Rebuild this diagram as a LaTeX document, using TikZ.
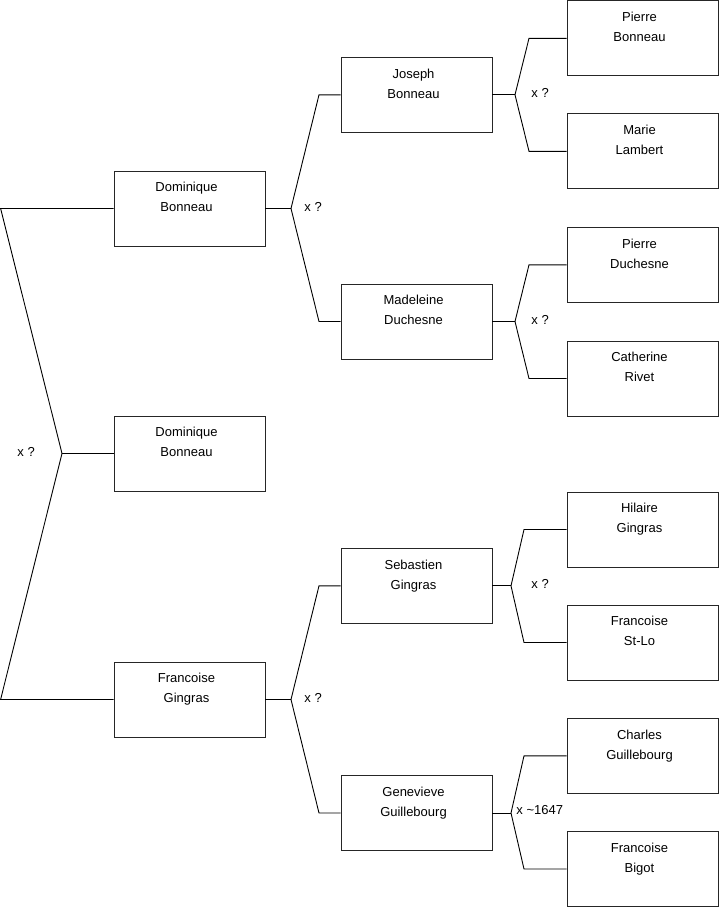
\documentclass[tikz,border=0pt]{standalone}
\usepackage{fontspec}
\setmainfont{Liberation Sans}
\begin{document}
\begin{tikzpicture}[x=1pt,y=-1pt,line width=0.9pt,
  box/.style={draw=black!85,minimum width=151pt,minimum height=75pt,inner sep=0pt,
    label={[txt]north:{#1}}},
  txt/.style={anchor=north,yshift=-11.5pt,xshift=-3pt,inner sep=0pt,align=center,
    font=\fontsize{13}{20}\selectfont},
  lbl/.style={anchor=west,inner sep=0pt,font=\fontsize{13}{16}\selectfont},
  con/.style={draw=black}]
\useasboundingbox (0,0) rectangle (719,908);
% left column
\node[box={Dominique\\Bonneau}] (d1) at (189.5,208.5) {};
\node[box={Dominique\\Bonneau}] (d2) at (189.5,453.5) {};
\node[box={Francoise\\Gingras}] (fg) at (189.5,699.5) {};
% middle column
\node[box={Joseph\\Bonneau}] (jb) at (416.5,94.8) {};
\node[box={Madeleine\\Duchesne}] (md) at (416.5,321.5) {};
\node[box={Sebastien\\Gingras}] (sg) at (416.5,585.8) {};
\node[box={Genevieve\\Guillebourg}] (gg) at (416.5,813) {};
% right column
\node[box={Pierre\\Bonneau}] (pb) at (642.5,38.3) {};
\node[box={Marie\\Lambert}] (ml) at (642.5,151.3) {};
\node[box={Pierre\\Duchesne}] (pd) at (642.5,264.8) {};
\node[box={Catherine\\Rivet}] (cr) at (642.5,378.5) {};
\node[box={Hilaire\\Gingras}] (hg) at (642.5,529.5) {};
\node[box={Francoise\\St-Lo}] (fs) at (642.5,642.5) {};
\node[box={Charles\\Guillebourg}] (cg) at (642.5,755.8) {};
\node[box={Francoise\\Bigot}] (fb) at (642.5,869) {};
% vertices and bend points
\coordinate (v0) at (62,0 |- d2.west);
\coordinate (a0) at (0.6,0 |- d1.west);
\coordinate (b0) at (0.6,0 |- fg.west);
\coordinate (v1) at (291,0 |- d1.east);
\coordinate (a1) at (319,0 |- jb.west);
\coordinate (b1) at (319,0 |- md.west);
\coordinate (v2) at (291,0 |- fg.east);
\coordinate (a2) at (319,0 |- sg.west);
\coordinate (b2) at (319,0 |- gg.west);
\coordinate (v3) at (515,0 |- jb.east);
\coordinate (a3) at (529,0 |- pb.west);
\coordinate (b3) at (529,0 |- ml.west);
\coordinate (v4) at (515,0 |- md.east);
\coordinate (a4) at (529,0 |- pd.west);
\coordinate (b4) at (529,0 |- cr.west);
\coordinate (v5) at (511,0 |- sg.east);
\coordinate (a5) at (524,0 |- hg.west);
\coordinate (b5) at (524,0 |- fs.west);
\coordinate (v6) at (511,0 |- gg.east);
\coordinate (a6) at (524,0 |- cg.west);
\coordinate (b6) at (524,0 |- fb.west);
% connectors
\draw[con] (d1.west) -- (a0) -- (v0) -- (b0) -- (fg.west);
\draw[con] (v0) -- (d2.west);
\draw[con] (d1.east) -- (v1);
\draw[con] (jb.west) -- (a1) -- (v1) -- (b1) -- (md.west);
\draw[con] (fg.east) -- (v2);
\draw[con] (sg.west) -- (a2) -- (v2) -- (b2) -- (gg.west);
\draw[con] (jb.east) -- (v3);
\draw[con] (pb.west) -- (a3) -- (v3) -- (b3) -- (ml.west);
\draw[con] (md.east) -- (v4);
\draw[con] (pd.west) -- (a4) -- (v4) -- (b4) -- (cr.west);
\draw[con] (sg.east) -- (v5);
\draw[con] (hg.west) -- (a5) -- (v5) -- (b5) -- (fs.west);
\draw[con] (gg.east) -- (v6);
\draw[con] (cg.west) -- (a6) -- (v6) -- (b6) -- (fb.west);
% labels
\node[lbl] (l0) at (17,452) {x ?};
\node[lbl] (l1) at (304,207) {x ?};
\node[lbl] (l2) at (304,698) {x ?};
\node[lbl] (l3) at (531,93) {x ?};
\node[lbl] (l4) at (531,320) {x ?};
\node[lbl] (l5) at (531,584) {x ?};
\node[lbl] (l6) at (516,810) {x \textasciitilde1647};
\end{tikzpicture}
\end{document}
